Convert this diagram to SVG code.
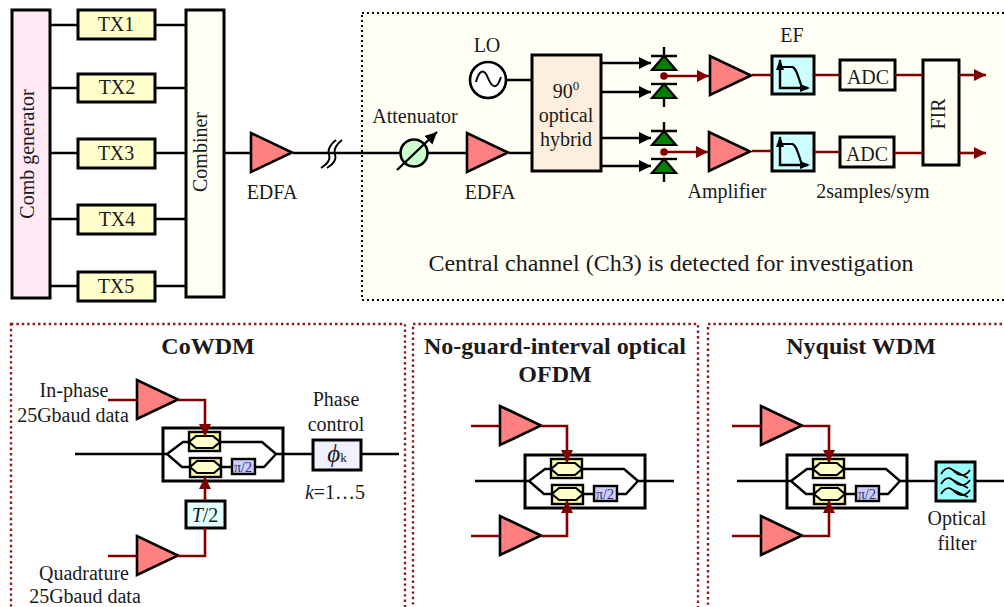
<svg xmlns="http://www.w3.org/2000/svg" width="1004" height="607" viewBox="0 0 1004 607">
<style>
text{font-family:"Liberation Serif","Times New Roman",serif;font-size:20px;fill:#1a1a1a;text-anchor:middle}
.b{stroke:#000;stroke-width:2.6;fill:none}
.k{stroke:#000;stroke-width:2.4;fill:none}
.r{stroke:#800000;stroke-width:2.6;fill:none}
.box{stroke:#000;stroke-width:3}
.amp{fill:#ff8080;stroke:#000;stroke-width:2.6}
text.h{font-weight:bold;font-size:24px}
text.pi{font-size:14px;fill:#333366}
text.big{font-size:24px}
.tx{fill:#ffffcc}
.cream{fill:#fffff4}
</style>
<defs>
<marker id="ak" markerUnits="userSpaceOnUse" markerWidth="14" markerHeight="14" refX="12" refY="6" orient="auto"><path d="M0 0L12 6L0 12z" fill="#000"/></marker>
<marker id="ar" markerUnits="userSpaceOnUse" markerWidth="14" markerHeight="14" refX="12" refY="6" orient="auto"><path d="M0 0L12 6L0 12z" fill="#800000"/></marker>
<polygon id="ampS" class="amp" points="0,0 0,39 41,19.500"/>
<g id="diode"><path d="M664 0V9M651 9H677" class="k"/><path d="M664 9L652 23H676z" fill="#008000" stroke="#000" stroke-width="2.200"/></g>
<g id="diodeB"><path d="M651 0H677" class="k"/><path d="M664 0L652 14H676z" fill="#008000" stroke="#000" stroke-width="2.200"/><path d="M664 14V23" class="k"/></g>
<g id="mod">
<rect x="163" y="428" width="120" height="53" fill="#fff" class="box"/>
<path d="M163 454H167L183 442H189M220 442H262L276 454H312M167 454L182 467H190M221 467H232M255 467H264L276 454" class="k"/>
<rect x="189" y="432" width="31" height="19" fill="#ffffaa" stroke="#000" stroke-width="2.400"/>
<rect x="190" y="458" width="31" height="19" fill="#ffffaa" stroke="#000" stroke-width="2.400"/>
<path d="M189 442L196 436H213L220 442L213 448H196z" fill="#ffffcc" stroke="#000" stroke-width="2.200"/>
<path d="M190 467L197 461H214L221 467L214 473H197z" fill="#ffffcc" stroke="#000" stroke-width="2.200"/>
<rect x="232" y="459" width="23" height="15" fill="#ccccff" stroke="#000" stroke-width="2.400"/>
</g>
<g id="ef">
<rect x="0" y="0" width="42" height="38" fill="#ccffff" class="box"/>
<path d="M8 4V32H36" class="k"/>
<path d="M8 11H20C24 11 26 20 30 32" stroke="#000" stroke-width="2.200" fill="none"/>
<path d="M4 14L8 3L12 14zM28 28L38 32L28 36z" fill="#000"/>
</g>
</defs>

<rect id="panel-top" x="362" y="13" width="650" height="287" fill="#fffff6" stroke="#000" stroke-width="2" stroke-dasharray="2 3"/>
<rect id="panel-cowdm" x="11" y="324" width="394" height="290" fill="#fff" stroke="#8b1a1a" stroke-width="2.400" stroke-dasharray="2.400 3"/>
<rect id="panel-ofdm" x="413" y="324" width="285" height="290" fill="#fff" stroke="#8b1a1a" stroke-width="2.400" stroke-dasharray="2.400 3"/>
<rect id="panel-nyquist" x="708" y="324" width="304" height="290" fill="#fff" stroke="#8b1a1a" stroke-width="2.400" stroke-dasharray="2.400 3"/>

<g id="comb"><rect class="box" x="12" y="10" width="38" height="288" fill="#ffeaf6"/><text transform="translate(34 154) rotate(-90)">Comb generator</text></g>
<g id="combiner"><rect class="box cream" x="186" y="10" width="38" height="287"/><text transform="translate(207 152) rotate(-90)">Combiner</text></g>
<g id="tx1"><rect class="box tx" x="78" y="10" width="77" height="29"/><text x="116" y="31">TX1</text></g>
<g id="tx2"><rect class="box tx" x="78" y="74" width="77" height="28"/><text x="117" y="94">TX2</text></g>
<g id="tx3"><rect class="box tx" x="78" y="139" width="77" height="29"/><text x="116" y="160">TX3</text></g>
<g id="tx4"><rect class="box tx" x="78" y="205" width="77" height="29"/><text x="117" y="226">TX4</text></g>
<g id="tx5"><rect class="box tx" x="78" y="272" width="77" height="29"/><text x="116" y="293">TX5</text></g>
<g id="edfa1"><use href="#ampS" x="251" y="133"/><text x="272" y="199">EDFA</text></g>
<g id="fiber-break"><path d="M321 168C326 165 331 160 329 154C327 149 332 143 336 140M327 168C332 165 337 160 335 154C333 149 338 143 342 140" stroke="#000" stroke-width="2" fill="none"/></g>
<g id="attenuator"><circle cx="414" cy="153" r="13.500" fill="#ccffcc" stroke="#000" stroke-width="2.600"/><path class="k" marker-end="url(#ak)" d="M397 170L437 132"/><text x="415" y="123">Attenuator</text></g>
<g id="edfa2"><use href="#ampS" x="467" y="133"/><text x="490" y="199">EDFA</text></g>
<g id="lo"><circle cx="488" cy="80" r="18" fill="#fff" stroke="#000" stroke-width="2.600"/><path d="M476 82C479 70 484 68 488 78S497 90 501 77" stroke="#000" stroke-width="2" fill="none"/><text x="487" y="52">LO</text></g>
<g id="hybrid"><rect class="box" x="532" y="55" width="69" height="116" fill="#fdeedd"/><text x="566" y="98">90<tspan style="font-size:13px" dy="-8">0</tspan></text><text x="566" y="122">optical</text><text x="566" y="146">hybrid</text></g>
<g id="pd1"><use href="#diode" y="47"/></g>
<g id="pd2"><use href="#diodeB" y="84"/></g>
<g id="pd3"><use href="#diode" y="122"/></g>
<g id="pd4"><use href="#diodeB" y="159"/></g>
<circle cx="664" cy="76" r="3.800" fill="#800000"/><circle cx="664" cy="152" r="3.800" fill="#800000"/>
<g id="amp1"><use href="#ampS" x="710" y="56"/></g>
<g id="amp2"><use href="#ampS" x="709" y="132"/><text x="727" y="198">Amplifier</text></g>
<g id="ef1"><use href="#ef" x="772" y="56"/><text x="792" y="42">EF</text></g>
<g id="ef2"><use href="#ef" x="772" y="133"/></g>
<g id="adc1"><rect class="box cream" x="840" y="60" width="55" height="30"/><text x="868" y="84">ADC</text></g>
<g id="adc2"><rect class="box cream" x="840" y="137" width="54" height="30"/><text x="867" y="161">ADC</text></g>
<g id="fir"><rect class="box cream" x="923" y="60" width="36" height="105"/><text transform="translate(945 114) rotate(-90)">FIR</text></g>
<text x="873" y="198">2samples/sym</text>
<text class="big" x="671" y="271">Central channel (Ch3) is detected for investigation</text>

<g id="cowdm">
<text class="h" x="208" y="354">CoWDM</text>
<use href="#mod"/>
<text class="pi" x="243" y="472">π/2</text>
<use href="#ampS" x="137" y="380"/>
<use href="#ampS" x="137" y="536"/>
<text x="74" y="397">In-phase</text><text x="73" y="422">25Gbaud data</text>
<text x="84" y="580">Quadrature</text><text x="85" y="603">25Gbaud data</text>
<text x="336" y="406">Phase</text><text x="336" y="431">control</text>
<g id="phase"><rect class="box" x="313" y="440" width="48" height="30" fill="#f0f0ff"/><text x="337" y="462" style="font-style:italic;font-size:25px">ϕ<tspan style="font-size:13px;font-style:normal">k</tspan></text></g>
<text x="335" y="499"><tspan font-style="italic">k</tspan>=1…5</text>
<g id="t2"><rect class="box" x="186" y="501" width="39" height="27" fill="#e6ffff"/><text x="205" y="522"><tspan font-style="italic">T</tspan>/2</text></g>
</g>

<g id="ofdm">
<text class="h" x="555" y="354">No-guard-interval optical</text><text class="h" x="555" y="382">OFDM</text>
<use href="#mod" x="362" y="27"/>
<text class="pi" x="605" y="499">π/2</text>
<use href="#ampS" x="500" y="406"/>
<use href="#ampS" x="500" y="516"/>
</g>

<g id="nyquist">
<text class="h" x="861" y="354">Nyquist WDM</text>
<use href="#mod" x="624" y="27"/>
<text class="pi" x="867" y="499">π/2</text>
<use href="#ampS" x="761" y="406"/>
<use href="#ampS" x="761" y="516"/>
<g id="optical-filter"><rect class="box" x="936" y="462" width="39" height="39" fill="#99ffff"/>
<path d="M941 474C947 465 951 468 955 472S965 477 970 470M941 484C947 475 951 478 955 482S965 487 970 480M941 494C947 485 951 488 955 492S965 497 970 490M951 469L968 478M951 479L968 488M951 489L968 497" stroke="#000" stroke-width="1.800" fill="none"/>
<text x="957" y="525">Optical</text><text x="957" y="550">filter</text></g>
</g>

<g id="connectors">
<path class="b" d="M50 25H78M155 25H185M50 88H78M155 88H185M50 153H78M155 153H186M50 219H78M155 219H185M50 286H78M155 286H185M224 153H251M293 153H401M428 153H467M509 153H532M507 80H532"/>
<path class="k" marker-end="url(#ak)" d="M601 63H651"/>
<path class="k" marker-end="url(#ak)" d="M601 92H651"/>
<path class="k" marker-end="url(#ak)" d="M601 138H651"/>
<path class="k" marker-end="url(#ak)" d="M601 166H651"/>
<path class="r" marker-end="url(#ar)" d="M664 76H709"/>
<path class="r" marker-end="url(#ar)" d="M664 152H708"/>
<path class="r" d="M752 75H772M814 75H840M895 75H923M752 151H772M814 152H840M894 153H923"/>
<path class="r" marker-end="url(#ar)" d="M959 75H986"/>
<path class="r" marker-end="url(#ar)" d="M959 153H986"/>
<path class="k" d="M75 454H163M361 454H399"/>
<path class="r" d="M108 400H137M108 556H137M178 556H205V528"/>
<path class="r" marker-end="url(#ar)" d="M178 400H205V436"/>
<path class="r" marker-end="url(#ar)" d="M205 501V477"/>
<path class="r" d="M471 426H500M471 536H500"/>
<path class="k" d="M475 481H525"/>
<path class="r" marker-end="url(#ar)" d="M541 426H567V462"/>
<path class="r" marker-end="url(#ar)" d="M541 536H567V501"/>
<path class="r" d="M732 426H761M732 536H761"/>
<path class="k" d="M737 481H787M975 481H1004"/>
<path class="r" marker-end="url(#ar)" d="M802 426H829V462"/>
<path class="r" marker-end="url(#ar)" d="M802 536H829V501"/>
</g>
</svg>
